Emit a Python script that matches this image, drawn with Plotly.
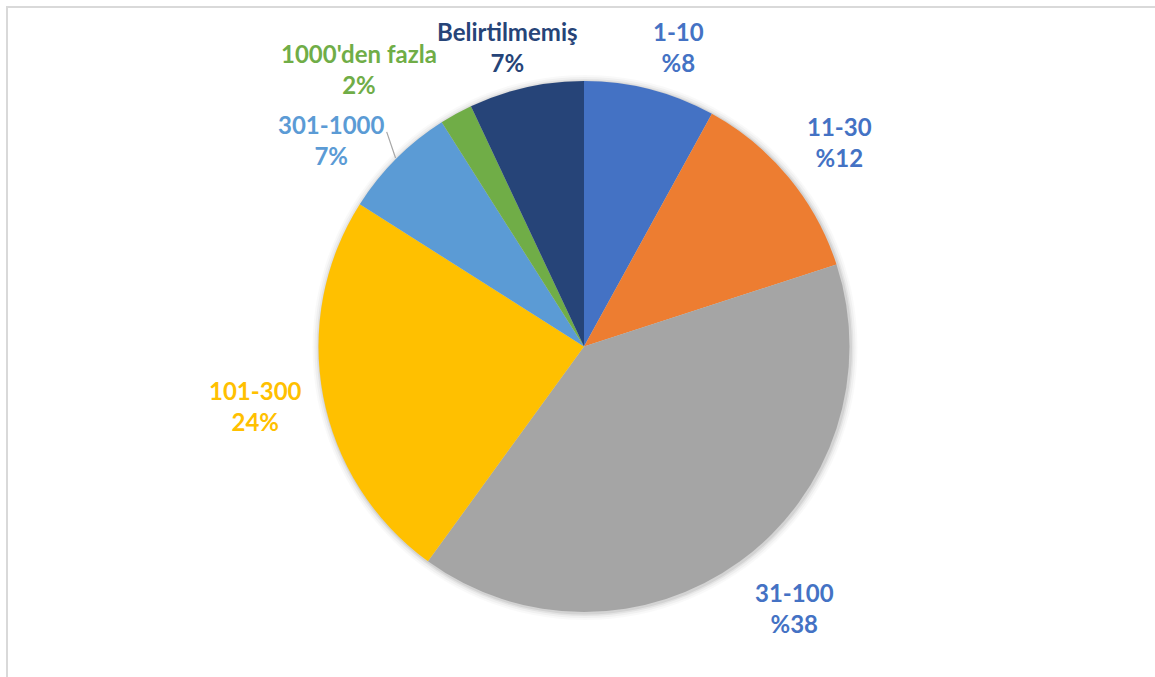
import math
import plotly.graph_objects as go

# ---- data ----
categories = ["1-10", "11-30", "31-100", "101-300", "301-1000", "1000'den fazla", "Belirtilmemiş"]
values = [8, 12, 40, 24, 7, 2, 7]
value_labels = ["%8", "%12", "%38", "24%", "7%", "2%", "7%"]

# ---- styles ----
slice_colors = ["#4472C4", "#ED7D31", "#A5A5A5", "#FFC000", "#5B9BD5", "#70AD47", "#264478"]
label_colors = ["#4472C4", "#4472C4", "#4472C4", "#FFC000", "#5B9BD5", "#70AD47", "#264478"]
# label placement relative to each slice's middle angle: (angle nudge in degrees, distance in px)
label_nudge = [(3.2, 314), (0.9, 327), (-2.9, 336), (0.55, 334), (-5.8, 326), (-10.2, 357), (-1.7, 309)]
leader_line = [False, False, False, False, True, False, False]

W, H = 1155, 677
CX, CY, R = 584, 346.5, 265.5
FONT = "Lato"


def px(x):
    return x / W


def py(y):
    return 1 - y / H


fig = go.Figure()

# soft shadow behind the pie
for extra, alpha in [(7, 0.025), (5, 0.035), (3, 0.05), (1.5, 0.07)]:
    fig.add_trace(go.Pie(
        values=[1], labels=["shadow"], marker=dict(colors=[f"rgba(0,0,0,{alpha})"], line=dict(width=0)),
        textinfo="none", hoverinfo="skip", showlegend=False, sort=False,
        domain=dict(x=[px(CX - R - extra + 1), px(CX + R + extra + 1)],
                    y=[py(CY + R + extra + 1), py(CY - R - extra + 1)]),
    ))

fig.add_trace(go.Pie(
    labels=categories,
    values=values,
    sort=False,
    direction="clockwise",
    rotation=0,
    marker=dict(colors=slice_colors, line=dict(width=0)),
    textinfo="none",
    showlegend=False,
    domain=dict(x=[px(CX - R), px(CX + R)], y=[py(CY + R), py(CY - R)]),
))

total = sum(values)
cum = 0
for i, (cat, v) in enumerate(zip(categories, values)):
    mid = (cum + v / 2) / total * 360
    cum += v
    ang = math.radians(mid + label_nudge[i][0])
    dist = label_nudge[i][1]
    lx = CX + dist * math.sin(ang)
    ly = CY - dist * math.cos(ang)
    fig.add_annotation(
        x=px(lx), y=py(ly), xref="paper", yref="paper",
        text=f"<b>{cat}<br>{value_labels[i]}</b>",
        showarrow=False, xanchor="center", yanchor="middle", align="center",
        font=dict(family=FONT, size=24, color=label_colors[i]),
    )
    if leader_line[i]:
        a = math.radians(mid)
        x0, y0 = CX + (R + 1) * math.sin(a), CY - (R + 1) * math.cos(a)
        a2 = math.radians(mid + 2.4)
        x1, y1 = CX + (R + 26) * math.sin(a2), CY - (R + 26) * math.cos(a2)
        fig.add_shape(type="line", xref="paper", yref="paper",
                      x0=px(x0), y0=py(y0), x1=px(x1), y1=py(y1),
                      line=dict(color="#A6A6A6", width=1.2))

# chart frame (top and left edges visible)
fig.add_shape(type="rect", xref="paper", yref="paper",
              x0=px(7), y0=-0.2, x1=1.2, y1=py(7),
              line=dict(color="#D9D9D9", width=2), layer="below")

fig.update_layout(
    width=W, height=H,
    margin=dict(l=0, r=0, t=0, b=0),
    paper_bgcolor="white",
    plot_bgcolor="white",
    showlegend=False,
)

fig.write_html("out.html")
